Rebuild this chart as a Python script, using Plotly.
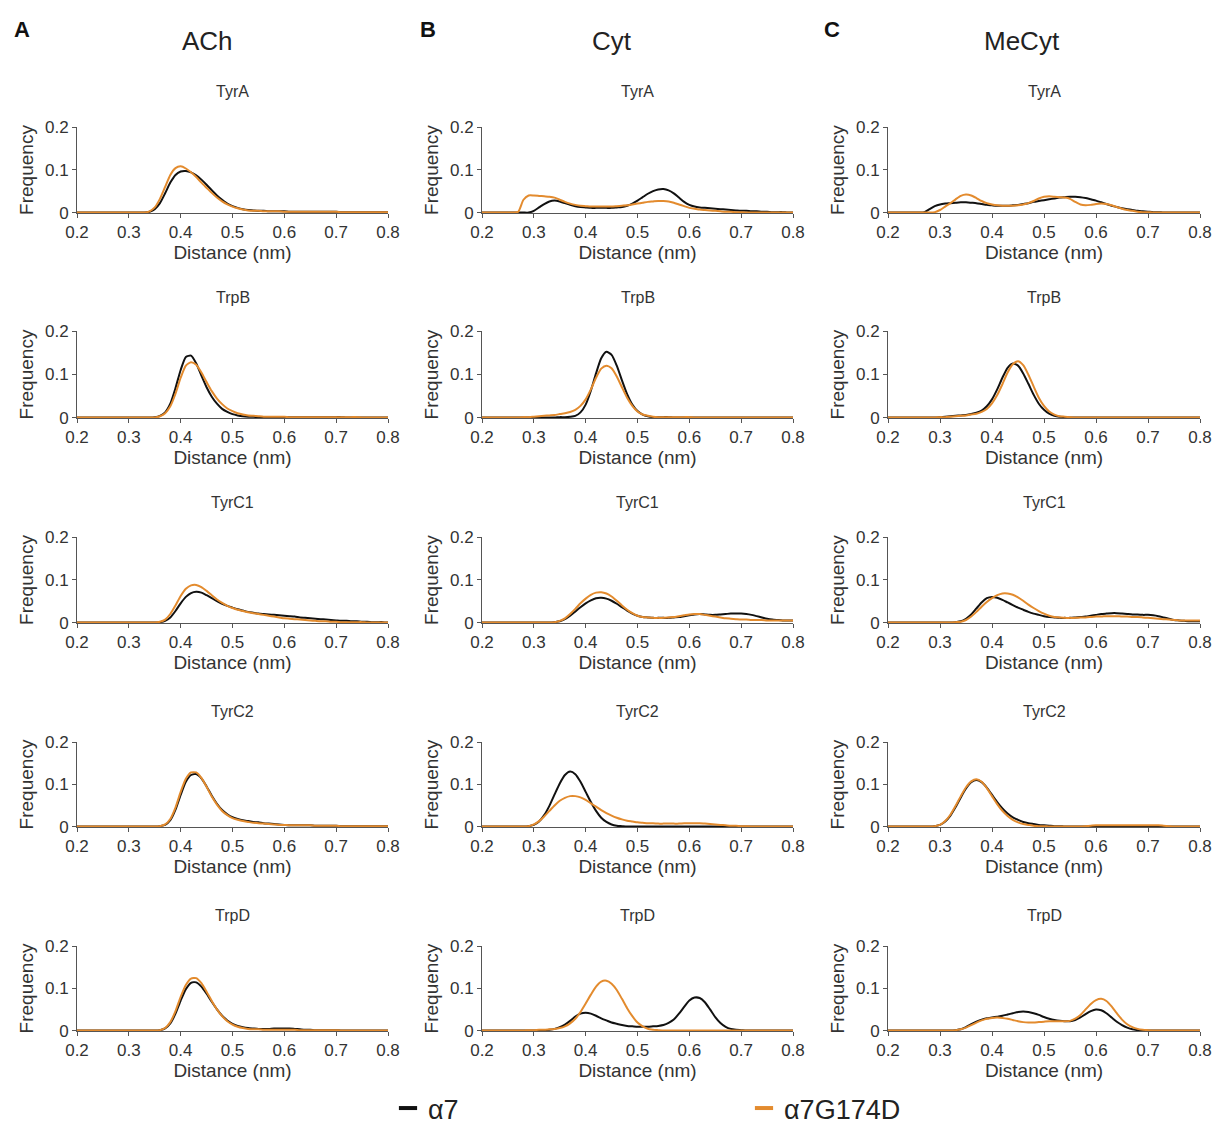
import plotly.graph_objects as go

# ---------------- data ----------------
distance_nm = [0.20, 0.21, 0.22, 0.23, 0.24, 0.25, 0.26, 0.27, 0.28, 0.29,
               0.30, 0.31, 0.32, 0.33, 0.34, 0.35, 0.36, 0.37, 0.38, 0.39,
               0.40, 0.41, 0.42, 0.43, 0.44, 0.45, 0.46, 0.47, 0.48, 0.49,
               0.50, 0.51, 0.52, 0.53, 0.54, 0.55, 0.56, 0.57, 0.58, 0.59,
               0.60, 0.61, 0.62, 0.63, 0.64, 0.65, 0.66, 0.67, 0.68, 0.69,
               0.70, 0.71, 0.72, 0.73, 0.74, 0.75, 0.76, 0.77, 0.78, 0.79,
               0.80]

ligands = ["ACh", "Cyt", "MeCyt"]
panel_letters = ["A", "B", "C"]
residues = ["TyrA", "TrpB", "TyrC1", "TyrC2", "TrpD"]
series_names = ["\u03b17", "\u03b17G174D"]
x_ticks = [0.2, 0.3, 0.4, 0.5, 0.6, 0.7, 0.8]
x_tick_labels = ["0.2", "0.3", "0.4", "0.5", "0.6", "0.7", "0.8"]
y_ticks = [0, 0.1, 0.2]
y_tick_labels = ["0", "0.1", "0.2"]

# ----- ACh -----
ach_tyra_a7 = [0, 0, 0, 0, 0, 0, 0, 0, 0, 0,
               0, 0, 0, 0, 0.002, 0.008, 0.022, 0.045, 0.070, 0.088,
               0.096, 0.097, 0.094, 0.087, 0.077, 0.065, 0.052, 0.040, 0.030, 0.021,
               0.015, 0.011, 0.008, 0.006, 0.005, 0.004, 0.004, 0.003, 0.003, 0.003,
               0.003, 0.002, 0.002, 0.002, 0.002, 0.002, 0.002, 0.002, 0.002, 0.002,
               0.002, 0.001, 0.001, 0.001, 0.001, 0.001, 0.001, 0.001, 0.001, 0.001,
               0.001]
ach_tyra_g = [0, 0, 0, 0, 0, 0, 0, 0, 0, 0,
              0, 0, 0, 0, 0.003, 0.012, 0.032, 0.060, 0.088, 0.104,
              0.108, 0.103, 0.094, 0.083, 0.070, 0.058, 0.046, 0.035, 0.026, 0.019,
              0.014, 0.010, 0.007, 0.005, 0.004, 0.004, 0.003, 0.003, 0.003, 0.003,
              0.002, 0.002, 0.002, 0.002, 0.002, 0.002, 0.002, 0.002, 0.002, 0.002,
              0.002, 0.001, 0.001, 0.001, 0.001, 0.001, 0.001, 0.001, 0.001, 0.001,
              0.001]
ach_trpb_a7 = [0, 0, 0, 0, 0, 0, 0, 0, 0, 0,
               0, 0, 0, 0, 0, 0.001, 0.004, 0.012, 0.032, 0.068,
               0.110, 0.140, 0.143, 0.125, 0.097, 0.070, 0.048, 0.032, 0.020, 0.013,
               0.008, 0.005, 0.003, 0.002, 0.002, 0.001, 0.001, 0.001, 0.001, 0.001,
               0.001, 0.001, 0.001, 0.001, 0.001, 0.001, 0.001, 0.001, 0.001, 0.001,
               0.001, 0.001, 0, 0, 0, 0, 0, 0, 0, 0,
               0]
ach_trpb_g = [0, 0, 0, 0, 0, 0, 0, 0, 0, 0,
              0, 0, 0, 0, 0, 0, 0.003, 0.010, 0.026, 0.055,
              0.092, 0.120, 0.128, 0.122, 0.104, 0.082, 0.061, 0.044, 0.031, 0.021,
              0.015, 0.010, 0.007, 0.005, 0.004, 0.003, 0.002, 0.002, 0.002, 0.002,
              0.002, 0.001, 0.001, 0.001, 0.001, 0.001, 0.001, 0.001, 0.001, 0.001,
              0.001, 0.001, 0.001, 0.001, 0.001, 0, 0, 0, 0, 0,
              0]
ach_tyrc1_a7 = [0, 0, 0, 0, 0, 0, 0, 0, 0, 0,
                0, 0, 0, 0, 0, 0, 0.001, 0.004, 0.012, 0.027,
                0.045, 0.060, 0.069, 0.072, 0.070, 0.064, 0.057, 0.050, 0.044, 0.039,
                0.035, 0.031, 0.028, 0.025, 0.023, 0.021, 0.020, 0.019, 0.018, 0.017,
                0.016, 0.015, 0.014, 0.012, 0.011, 0.010, 0.009, 0.008, 0.007, 0.006,
                0.005, 0.004, 0.004, 0.003, 0.003, 0.002, 0.002, 0.001, 0.001, 0.001,
                0]
ach_tyrc1_g = [0, 0, 0, 0, 0, 0, 0, 0, 0, 0,
               0, 0, 0, 0, 0, 0, 0.002, 0.007, 0.020, 0.040,
               0.062, 0.079, 0.087, 0.088, 0.083, 0.074, 0.064, 0.054, 0.046, 0.039,
               0.034, 0.030, 0.027, 0.024, 0.022, 0.020, 0.018, 0.016, 0.014, 0.012,
               0.010, 0.009, 0.008, 0.007, 0.006, 0.005, 0.004, 0.003, 0.003, 0.002,
               0.002, 0.001, 0.001, 0.001, 0.001, 0.001, 0, 0, 0, 0,
               0]
ach_tyrc2_a7 = [0, 0, 0, 0, 0, 0, 0, 0, 0, 0,
                0, 0, 0, 0, 0, 0, 0.001, 0.004, 0.015, 0.040,
                0.075, 0.106, 0.122, 0.124, 0.114, 0.095, 0.073, 0.054, 0.039, 0.029,
                0.022, 0.018, 0.015, 0.013, 0.011, 0.010, 0.008, 0.007, 0.006, 0.005,
                0.004, 0.003, 0.003, 0.003, 0.003, 0.003, 0.002, 0.002, 0.002, 0.002,
                0.002, 0.001, 0.001, 0.001, 0.001, 0.001, 0.001, 0.001, 0.001, 0.001,
                0.001]
ach_tyrc2_g = [0, 0, 0, 0, 0, 0, 0, 0, 0, 0,
               0, 0, 0, 0, 0, 0, 0.001, 0.005, 0.018, 0.045,
               0.082, 0.113, 0.128, 0.128, 0.115, 0.094, 0.071, 0.052, 0.037, 0.027,
               0.020, 0.016, 0.013, 0.011, 0.009, 0.008, 0.007, 0.006, 0.005, 0.004,
               0.004, 0.003, 0.003, 0.003, 0.003, 0.003, 0.002, 0.002, 0.002, 0.002,
               0.002, 0.001, 0.001, 0.001, 0.001, 0.001, 0.001, 0.001, 0.001, 0.001,
               0.001]
ach_trpd_a7 = [0, 0, 0, 0, 0, 0, 0, 0, 0, 0,
               0, 0, 0, 0, 0, 0, 0.001, 0.005, 0.017, 0.040,
               0.071, 0.098, 0.113, 0.114, 0.104, 0.087, 0.068, 0.050, 0.035, 0.024,
               0.016, 0.011, 0.008, 0.006, 0.005, 0.004, 0.004, 0.004, 0.005, 0.005,
               0.005, 0.005, 0.004, 0.003, 0.002, 0.002, 0.001, 0.001, 0.001, 0.001,
               0.001, 0, 0, 0, 0, 0, 0, 0, 0, 0,
               0]
ach_trpd_g = [0, 0, 0, 0, 0, 0, 0, 0, 0, 0,
              0, 0, 0, 0, 0, 0, 0.001, 0.006, 0.020, 0.046,
              0.080, 0.108, 0.123, 0.124, 0.112, 0.092, 0.070, 0.050, 0.034, 0.022,
              0.014, 0.009, 0.006, 0.004, 0.003, 0.003, 0.002, 0.002, 0.002, 0.002,
              0.002, 0.002, 0.002, 0.001, 0.001, 0.001, 0.001, 0.001, 0.001, 0.001,
              0.001, 0, 0, 0, 0, 0, 0, 0, 0, 0,
              0]

# ----- Cyt -----
cyt_tyra_a7 = [0, 0, 0, 0, 0, 0, 0, 0, 0, 0,
               0.004, 0.012, 0.020, 0.026, 0.028, 0.026, 0.022, 0.018, 0.015, 0.013,
               0.012, 0.011, 0.011, 0.011, 0.011, 0.011, 0.012, 0.013, 0.016, 0.021,
               0.028, 0.036, 0.044, 0.050, 0.054, 0.055, 0.052, 0.045, 0.035, 0.025,
               0.018, 0.014, 0.012, 0.011, 0.010, 0.009, 0.008, 0.007, 0.006, 0.005,
               0.004, 0.004, 0.003, 0.003, 0.002, 0.002, 0.001, 0.001, 0.001, 0,
               0]
cyt_tyra_g = [0, 0, 0, 0, 0, 0, 0, 0.002, 0.030, 0.040,
              0.040, 0.039, 0.038, 0.037, 0.035, 0.030, 0.025, 0.021, 0.018, 0.016,
              0.015, 0.014, 0.014, 0.014, 0.014, 0.014, 0.015, 0.016, 0.017, 0.019,
              0.021, 0.023, 0.025, 0.026, 0.027, 0.027, 0.026, 0.023, 0.019, 0.015,
              0.011, 0.009, 0.007, 0.006, 0.005, 0.004, 0.003, 0.002, 0.002, 0.001,
              0.001, 0, 0, 0, 0, 0, 0, 0, 0, 0,
              0]
cyt_trpb_a7 = [0, 0, 0, 0, 0, 0, 0, 0, 0, 0,
               0, 0, 0, 0, 0, 0.001, 0.001, 0.002, 0.004, 0.012,
               0.030, 0.062, 0.102, 0.137, 0.152, 0.145, 0.120, 0.086, 0.054, 0.030,
               0.015, 0.007, 0.003, 0.001, 0.001, 0.001, 0.001, 0, 0, 0,
               0, 0, 0, 0, 0, 0, 0, 0, 0, 0,
               0, 0, 0, 0, 0, 0, 0, 0, 0, 0,
               0]
cyt_trpb_g = [0, 0, 0, 0, 0, 0, 0, 0, 0.001, 0.001,
              0.002, 0.003, 0.004, 0.005, 0.006, 0.008, 0.010, 0.013, 0.018, 0.027,
              0.042, 0.065, 0.092, 0.113, 0.120, 0.114, 0.095, 0.070, 0.046, 0.027,
              0.014, 0.007, 0.004, 0.002, 0.001, 0.001, 0.001, 0.001, 0.001, 0.001,
              0.001, 0, 0, 0, 0, 0, 0, 0, 0, 0,
              0, 0, 0, 0, 0, 0, 0, 0, 0, 0,
              0]
cyt_tyrc1_a7 = [0, 0, 0, 0, 0, 0, 0, 0, 0, 0,
                0, 0, 0, 0, 0.001, 0.003, 0.008, 0.016, 0.026, 0.036,
                0.045, 0.052, 0.057, 0.058, 0.056, 0.051, 0.044, 0.036, 0.028, 0.021,
                0.016, 0.013, 0.012, 0.011, 0.011, 0.011, 0.011, 0.012, 0.013, 0.015,
                0.017, 0.019, 0.020, 0.019, 0.018, 0.018, 0.019, 0.020, 0.021, 0.021,
                0.021, 0.020, 0.018, 0.015, 0.012, 0.009, 0.007, 0.006, 0.005, 0.005,
                0.005]
cyt_tyrc1_g = [0, 0, 0, 0, 0, 0, 0, 0, 0, 0,
               0, 0, 0, 0, 0.001, 0.004, 0.010, 0.020, 0.032, 0.045,
               0.056, 0.065, 0.070, 0.071, 0.068, 0.061, 0.051, 0.040, 0.030, 0.022,
               0.016, 0.013, 0.012, 0.011, 0.011, 0.011, 0.012, 0.013, 0.015, 0.017,
               0.019, 0.020, 0.020, 0.018, 0.016, 0.014, 0.012, 0.010, 0.009, 0.008,
               0.007, 0.007, 0.006, 0.006, 0.006, 0.005, 0.005, 0.005, 0.005, 0.005,
               0.005]
cyt_tyrc2_a7 = [0, 0, 0, 0, 0, 0, 0, 0, 0, 0.001,
                0.004, 0.012, 0.027, 0.049, 0.076, 0.102, 0.122, 0.130, 0.124, 0.106,
                0.082, 0.058, 0.037, 0.021, 0.011, 0.005, 0.002, 0.001, 0, 0,
                0, 0, 0, 0, 0, 0, 0, 0, 0, 0,
                0, 0, 0, 0, 0, 0, 0, 0, 0, 0,
                0, 0, 0, 0, 0, 0, 0, 0, 0, 0,
                0]
cyt_tyrc2_g = [0, 0, 0, 0, 0, 0, 0, 0, 0, 0.001,
               0.005, 0.013, 0.024, 0.037, 0.050, 0.061, 0.068, 0.072, 0.072, 0.069,
               0.063, 0.055, 0.047, 0.039, 0.032, 0.026, 0.021, 0.017, 0.014, 0.012,
               0.010, 0.009, 0.008, 0.008, 0.007, 0.007, 0.007, 0.007, 0.007, 0.008,
               0.008, 0.008, 0.008, 0.007, 0.006, 0.005, 0.004, 0.003, 0.002, 0.002,
               0.001, 0.001, 0, 0, 0, 0, 0, 0, 0, 0,
               0]
cyt_trpd_a7 = [0, 0, 0, 0, 0, 0, 0, 0, 0, 0,
               0, 0, 0.001, 0.002, 0.004, 0.008, 0.014, 0.023, 0.033, 0.040,
               0.042, 0.040, 0.035, 0.029, 0.024, 0.019, 0.016, 0.013, 0.011, 0.010,
               0.009, 0.009, 0.009, 0.010, 0.011, 0.013, 0.018, 0.026, 0.040, 0.056,
               0.071, 0.078, 0.077, 0.067, 0.050, 0.032, 0.018, 0.009, 0.004, 0.002,
               0.001, 0, 0, 0, 0, 0, 0, 0, 0, 0,
               0]
cyt_trpd_g = [0, 0, 0, 0, 0, 0, 0, 0, 0, 0.001,
              0.001, 0.002, 0.002, 0.003, 0.004, 0.006, 0.010, 0.017, 0.028, 0.044,
              0.064, 0.085, 0.104, 0.116, 0.118, 0.111, 0.096, 0.075, 0.053, 0.034,
              0.019, 0.010, 0.004, 0.002, 0.001, 0, 0, 0, 0, 0,
              0, 0, 0, 0, 0, 0, 0, 0, 0, 0,
              0, 0, 0, 0, 0, 0, 0, 0, 0, 0,
              0]

# ----- MeCyt -----
mec_tyra_a7 = [0, 0, 0, 0, 0, 0, 0, 0.001, 0.008, 0.015,
               0.019, 0.021, 0.022, 0.023, 0.024, 0.024, 0.023, 0.022, 0.020, 0.018,
               0.017, 0.016, 0.016, 0.016, 0.017, 0.018, 0.020, 0.022, 0.025, 0.027,
               0.029, 0.031, 0.033, 0.035, 0.036, 0.037, 0.037, 0.036, 0.034, 0.031,
               0.028, 0.024, 0.020, 0.016, 0.013, 0.010, 0.008, 0.006, 0.004, 0.003,
               0.002, 0.001, 0.001, 0, 0, 0, 0, 0, 0, 0,
               0]
mec_tyra_g = [0, 0, 0, 0, 0, 0, 0, 0, 0, 0.001,
              0.006, 0.014, 0.022, 0.031, 0.039, 0.042, 0.040, 0.034, 0.027, 0.022,
              0.019, 0.017, 0.016, 0.016, 0.016, 0.017, 0.019, 0.022, 0.027, 0.033,
              0.037, 0.038, 0.037, 0.036, 0.035, 0.032, 0.025, 0.019, 0.017, 0.018,
              0.020, 0.021, 0.020, 0.017, 0.013, 0.009, 0.006, 0.004, 0.002, 0.001,
              0.001, 0, 0, 0, 0, 0, 0, 0, 0, 0,
              0]
mec_trpb_a7 = [0, 0, 0, 0, 0, 0, 0, 0, 0, 0,
               0.001, 0.002, 0.003, 0.004, 0.005, 0.006, 0.008, 0.011, 0.016, 0.026,
               0.042, 0.065, 0.092, 0.115, 0.125, 0.120, 0.102, 0.078, 0.053, 0.032,
               0.018, 0.009, 0.004, 0.002, 0.001, 0, 0, 0, 0, 0,
               0, 0, 0, 0, 0, 0, 0, 0, 0, 0,
               0, 0, 0, 0, 0, 0, 0, 0, 0, 0,
               0]
mec_trpb_g = [0, 0, 0, 0, 0, 0, 0, 0, 0, 0,
              0.001, 0.001, 0.002, 0.003, 0.004, 0.005, 0.007, 0.009, 0.013, 0.020,
              0.033, 0.052, 0.077, 0.104, 0.123, 0.130, 0.121, 0.099, 0.072, 0.046,
              0.027, 0.014, 0.007, 0.003, 0.002, 0.001, 0, 0, 0, 0,
              0, 0, 0, 0, 0, 0, 0, 0, 0, 0,
              0, 0, 0, 0, 0, 0, 0, 0, 0, 0,
              0]
mec_tyrc1_a7 = [0, 0, 0, 0, 0, 0, 0, 0, 0, 0,
                0, 0, 0, 0.001, 0.003, 0.009, 0.019, 0.033, 0.047, 0.057,
                0.060, 0.058, 0.053, 0.047, 0.041, 0.035, 0.030, 0.025, 0.021, 0.018,
                0.015, 0.013, 0.012, 0.011, 0.011, 0.011, 0.012, 0.013, 0.014, 0.016,
                0.018, 0.020, 0.021, 0.022, 0.022, 0.021, 0.020, 0.019, 0.019, 0.018,
                0.018, 0.017, 0.015, 0.012, 0.009, 0.006, 0.005, 0.004, 0.003, 0.003,
                0.003]
mec_tyrc1_g = [0, 0, 0, 0, 0, 0, 0, 0, 0, 0,
               0, 0, 0, 0.001, 0.002, 0.006, 0.014, 0.025, 0.037, 0.048,
               0.057, 0.064, 0.068, 0.068, 0.065, 0.059, 0.051, 0.042, 0.034, 0.027,
               0.021, 0.016, 0.013, 0.012, 0.011, 0.011, 0.011, 0.012, 0.012, 0.013,
               0.014, 0.014, 0.015, 0.015, 0.015, 0.014, 0.014, 0.013, 0.013, 0.012,
               0.011, 0.010, 0.009, 0.008, 0.007, 0.006, 0.005, 0.005, 0.005, 0.005,
               0.005]
mec_tyrc2_a7 = [0, 0, 0, 0, 0, 0, 0, 0, 0, 0.001,
                0.004, 0.012, 0.026, 0.046, 0.069, 0.090, 0.105, 0.110, 0.105, 0.092,
                0.075, 0.058, 0.043, 0.031, 0.022, 0.016, 0.011, 0.008, 0.006, 0.004,
                0.003, 0.002, 0.001, 0.001, 0, 0, 0, 0, 0, 0,
                0, 0, 0, 0, 0, 0, 0, 0, 0, 0,
                0, 0, 0, 0, 0, 0, 0, 0, 0, 0,
                0]
mec_tyrc2_g = [0, 0, 0, 0, 0, 0, 0, 0, 0, 0.001,
               0.004, 0.013, 0.028, 0.049, 0.072, 0.093, 0.107, 0.112, 0.106, 0.091,
               0.072, 0.053, 0.037, 0.025, 0.016, 0.010, 0.006, 0.004, 0.002, 0.001,
               0.001, 0, 0, 0, 0, 0, 0, 0, 0.001, 0.002,
               0.003, 0.003, 0.003, 0.003, 0.003, 0.003, 0.003, 0.003, 0.003, 0.003,
               0.003, 0.003, 0.003, 0.002, 0.001, 0, 0, 0, 0, 0,
               0]
mec_trpd_a7 = [0, 0, 0, 0, 0, 0, 0, 0, 0, 0,
               0, 0, 0, 0.001, 0.003, 0.008, 0.015, 0.021, 0.026, 0.029,
               0.031, 0.033, 0.035, 0.038, 0.041, 0.044, 0.045, 0.044, 0.041, 0.037,
               0.032, 0.028, 0.025, 0.023, 0.022, 0.022, 0.025, 0.031, 0.039, 0.046,
               0.050, 0.048, 0.041, 0.031, 0.021, 0.013, 0.007, 0.003, 0.001, 0,
               0, 0, 0, 0, 0, 0, 0, 0, 0, 0,
               0]
mec_trpd_g = [0, 0, 0, 0, 0, 0, 0, 0, 0, 0,
              0, 0, 0, 0.001, 0.003, 0.007, 0.013, 0.019, 0.024, 0.028,
              0.030, 0.031, 0.030, 0.028, 0.025, 0.022, 0.020, 0.019, 0.019, 0.020,
              0.021, 0.022, 0.022, 0.022, 0.022, 0.023, 0.028, 0.037, 0.050, 0.063,
              0.072, 0.075, 0.070, 0.057, 0.041, 0.026, 0.015, 0.008, 0.004, 0.002,
              0.001, 0, 0, 0, 0, 0, 0, 0, 0, 0,
              0]

freq_a7 = {
    "ACh": [ach_tyra_a7, ach_trpb_a7, ach_tyrc1_a7, ach_tyrc2_a7, ach_trpd_a7],
    "Cyt": [cyt_tyra_a7, cyt_trpb_a7, cyt_tyrc1_a7, cyt_tyrc2_a7, cyt_trpd_a7],
    "MeCyt": [mec_tyra_a7, mec_trpb_a7, mec_tyrc1_a7, mec_tyrc2_a7, mec_trpd_a7],
}
freq_g174d = {
    "ACh": [ach_tyra_g, ach_trpb_g, ach_tyrc1_g, ach_tyrc2_g, ach_trpd_g],
    "Cyt": [cyt_tyra_g, cyt_trpb_g, cyt_tyrc1_g, cyt_tyrc2_g, cyt_trpd_g],
    "MeCyt": [mec_tyra_g, mec_trpb_g, mec_tyrc1_g, mec_tyrc2_g, mec_trpd_g],
}

# ---------------- layout constants (page pixels) ----------------
W, H = 1215, 1133
col_left = [77, 482, 888]
col_right = [388, 793, 1200]
row_top = [127, 331, 537, 742, 946]
row_bot = [213, 418, 623, 827, 1031]
title_y = [91, 297, 503, 711, 915]

BLACK = "#111111"
ORANGE = "#E38B2E"
AXIS = "#555555"
TXT = "#333333"
FONT = "Liberation Sans, Arial, sans-serif"

def px_x(p):
    return p / W

def px_y(p):
    return 1 - p / H

fig = go.Figure()
layout = {}
annotations = []

for c, lig in enumerate(ligands):
    for r, res in enumerate(residues):
        idx = r * 3 + c + 1
        xa = "xaxis" if idx == 1 else f"xaxis{idx}"
        ya = "yaxis" if idx == 1 else f"yaxis{idx}"
        xr = "x" if idx == 1 else f"x{idx}"
        yr = "y" if idx == 1 else f"y{idx}"
        fig.add_trace(go.Scatter(
            x=distance_nm, y=freq_a7[lig][r], mode="lines",
            line=dict(color=BLACK, width=2, shape="spline", smoothing=0.6),
            name=series_names[0], showlegend=False, xaxis=xr, yaxis=yr))
        fig.add_trace(go.Scatter(
            x=distance_nm, y=freq_g174d[lig][r], mode="lines",
            line=dict(color=ORANGE, width=2, shape="spline", smoothing=0.6),
            name=series_names[1], showlegend=False, xaxis=xr, yaxis=yr))
        layout[xa] = dict(
            domain=[px_x(col_left[c]), px_x(col_right[c])],
            anchor=yr, range=[0.2, 0.8], tickvals=x_ticks, ticktext=x_tick_labels,
            showline=True, linecolor=AXIS, linewidth=1, ticks="outside",
            ticklen=4, tickcolor=AXIS, showgrid=False, zeroline=False,
            tickfont=dict(size=17, color=TXT, family=FONT),
            title=dict(text="Distance (nm)", font=dict(size=19, color=TXT, family=FONT),
                       standoff=4),
            automargin=False, fixedrange=True)
        layout[ya] = dict(
            domain=[px_y(row_bot[r]), px_y(row_top[r])],
            anchor=xr, range=[-0.001, 0.2], tickvals=y_ticks, ticktext=y_tick_labels,
            showline=True, linecolor=AXIS, linewidth=1, ticks="outside",
            ticklen=4, tickcolor=AXIS, showgrid=False, zeroline=False,
            tickfont=dict(size=17, color=TXT, family=FONT),
            title=dict(text="Frequency", font=dict(size=19, color=TXT, family=FONT),
                       standoff=6),
            automargin=False, fixedrange=True)
        annotations.append(dict(
            text=res, x=px_x((col_left[c] + col_right[c]) / 2), y=px_y(title_y[r]),
            xref="paper", yref="paper", xanchor="center", yanchor="middle",
            showarrow=False, font=dict(size=16, color=TXT, family=FONT)))

header_x = [207, 612, 1022]
letter_x = [22, 428, 832]
for c, lig in enumerate(ligands):
    annotations.append(dict(
        text=lig, x=px_x(header_x[c]), y=px_y(41), xref="paper", yref="paper",
        xanchor="center", yanchor="middle", showarrow=False,
        font=dict(size=26, color="#222222", family=FONT)))
    annotations.append(dict(
        text=f"<b>{panel_letters[c]}</b>", x=px_x(letter_x[c]), y=px_y(29),
        xref="paper", yref="paper", xanchor="center", yanchor="middle",
        showarrow=False, font=dict(size=22, color="#111111", family=FONT)))

# legend entries (marker-only proxies showing a short dash)
fig.add_trace(go.Scatter(
    x=[None], y=[None], mode="markers", name=series_names[0],
    marker=dict(symbol="line-ew", size=13, color=BLACK, line=dict(color=BLACK, width=4)),
    showlegend=True, legend="legend"))
fig.add_trace(go.Scatter(
    x=[None], y=[None], mode="markers", name=series_names[1],
    marker=dict(symbol="line-ew", size=13, color=ORANGE, line=dict(color=ORANGE, width=4)),
    showlegend=True, legend="legend2"))

leg_common = dict(orientation="h", yanchor="bottom", xanchor="left",
                  bgcolor="rgba(0,0,0,0)", font=dict(size=27, color="#222222", family=FONT),
                  itemsizing="trace")

fig.update_layout(
    width=W, height=H,
    margin=dict(l=0, r=0, t=0, b=0, pad=0, autoexpand=False),
    paper_bgcolor="white", plot_bgcolor="white",
    font=dict(family=FONT, color=TXT),
    annotations=annotations,
    legend=dict(x=px_x(388), y=0, **leg_common),
    legend2=dict(x=px_x(744), y=0, **leg_common),
    **layout,
)

# remove the browser's default page margin so the figure fills the window exactly
fig.write_html("out.html",
               config={"displayModeBar": False},
               post_script="document.body.style.margin='0';document.body.style.overflow='hidden';")
